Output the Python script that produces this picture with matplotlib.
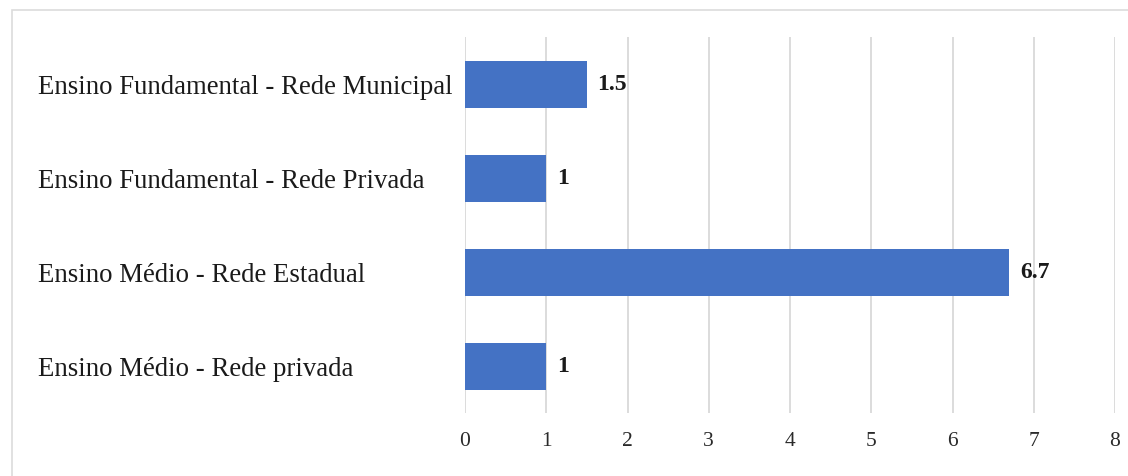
import matplotlib
matplotlib.use("Agg")
import matplotlib.pyplot as plt
from matplotlib.patches import Rectangle

categories = ["Ensino Fundamental - Rede Municipal",
              "Ensino Fundamental - Rede Privada",
              "Ensino Médio - Rede Estadual",
              "Ensino Médio - Rede privada"]
values = [1.5, 1, 6.7, 1]
value_labels = ["1.5", "1", "6.7", "1"]
xticks = [0, 1, 2, 3, 4, 5, 6, 7, 8]

plt.rcParams['font.family'] = ['Liberation Serif', 'DejaVu Serif']

W, H = 1128, 476
fig = plt.figure(figsize=(W / 100, H / 100), dpi=100)
fig.patches.append(Rectangle((12 / W, -0.01), 1.02 - 12 / W, 1 - 10 / H + 0.01,
                             transform=fig.transFigure, fill=False,
                             edgecolor='#dcdcdc', linewidth=1.2))

ax = fig.add_axes([465 / W, 1 - 413 / H, (1115 - 465) / W, (413 - 37) / H])
ypos = list(range(len(categories)))
ax.barh(ypos, values, height=0.5, color='#4472C4', zorder=3)
for y, v, lab in zip(ypos, values, value_labels):
    ax.text(v + 0.13, y, lab, va='center', ha='left', fontsize=17,
            fontweight='bold', color='#1a1a1a')

ax.set_ylim(3.5, -0.5)
ax.set_xlim(0, 8)
ax.set_xticks(xticks)
ax.set_xticklabels([str(t) for t in xticks], fontsize=15.5, color='#2a2a2a')
ax.set_yticks(ypos)
ax.set_yticklabels(categories, fontsize=19.3, color='#1a1a1a')
ax.tick_params(axis='both', length=0)
ax.tick_params(axis='x', pad=14)
ax.tick_params(axis='y', pad=0)
for lab in ax.get_yticklabels():
    lab.set_horizontalalignment('left')
    lab.set_transform(ax.get_yaxis_transform())
    lab.set_x((38 - 465) / (1115 - 465))

ax.grid(axis='x', color='#d9d9d9', linewidth=1.3, zorder=0)
for s in ax.spines.values():
    s.set_visible(False)

fig.savefig("out.png", dpi=100)
